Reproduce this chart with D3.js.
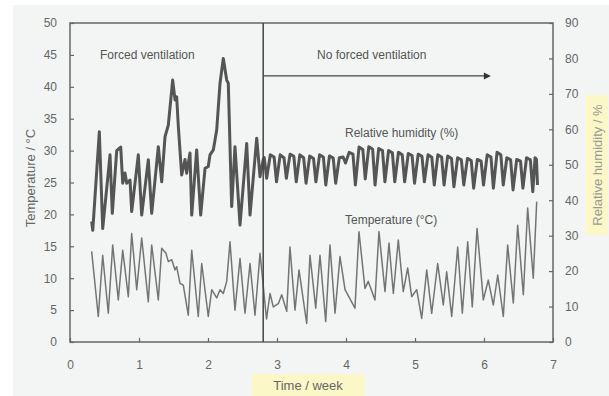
<!DOCTYPE html>
<html><head><meta charset="utf-8">
<script src="https://cdn.jsdelivr.net/npm/d3@7"></script>
<style>html,body{margin:0;padding:0;background:#fff;}svg{display:block;}</style>
</head><body><svg id="c" width="609" height="396"></svg>
<script>
// ---- data ----
const tempTicks = [0,5,10,15,20,25,30,35,40,45,50];
const rhTicks = [0,10,20,30,40,50,60,70,80,90];
const weekTicks = [0,1,2,3,4,5,6,7];
const ventilationChange = 2.8;
const arrowEnd = 6.1;
// Temperature (°C) vs week
const temperature = [
[0.314,14.2],[0.410,4.0],[0.474,13.6],[0.555,4.5],[0.619,15.2],[0.700,6.6],[0.764,14.4],[0.845,7.1],
[0.894,17.0],[0.967,8.2],[1.039,16.3],[1.135,6.3],[1.184,15.2],[1.280,6.6],[1.329,14.7],[1.391,13.9],
[1.425,12.6],[1.474,12.9],[1.522,11.3],[1.546,11.8],[1.594,9.2],[1.642,8.9],[1.714,4.2],[1.764,14.4],
[1.859,4.0],[1.909,12.3],[2.004,4.0],[2.054,8.2],[2.126,6.9],[2.174,8.2],[2.222,7.6],[2.271,9.5],
[2.319,15.7],[2.391,5.0],[2.464,13.1],[2.536,4.5],[2.609,12.3],[2.681,4.2],[2.754,13.9],[2.848,3.6],
[2.899,7.6],[2.946,5.5],[3.019,6.0],[3.068,7.4],[3.141,4.8],[3.188,14.9],[3.261,5.0],[3.319,11.3],
[3.430,2.9],[3.478,13.6],[3.561,5.3],[3.623,13.6],[3.706,3.2],[3.768,15.2],[3.841,4.5],[3.913,13.4],
[3.986,8.2],[4.130,5.3],[4.188,17.3],[4.275,8.4],[4.323,9.5],[4.420,6.6],[4.478,17.3],[4.565,7.9],
[4.623,15.5],[4.686,7.6],[4.758,16.0],[4.830,7.9],[4.894,11.6],[4.952,7.1],[5.025,8.2],[5.097,3.7],
[5.170,11.3],[5.242,4.5],[5.329,12.3],[5.410,5.8],[5.459,11.0],[5.532,4.0],[5.619,14.9],[5.686,4.5],
[5.764,15.7],[5.830,5.5],[5.899,17.8],[5.990,6.6],[6.062,9.7],[6.135,5.8],[6.199,10.5],[6.280,4.0],
[6.343,15.2],[6.425,6.1],[6.488,18.3],[6.570,7.4],[6.633,21.0],[6.714,10.0],[6.764,22.0]
];
// Relative humidity (%) vs week
const humidity = [
[0.314,34.0],[0.330,31.5],[0.425,59.3],[0.474,32.0],[0.580,52.8],[0.613,36.3],[0.677,54.0],[0.735,55.0],
[0.764,44.8],[0.797,47.7],[0.822,44.8],[0.870,45.7],[0.894,36.8],[0.990,52.8],[1.039,35.8],[1.135,51.4],
[1.184,36.3],[1.280,55.1],[1.329,45.2],[1.377,57.9],[1.425,61.2],[1.488,73.9],[1.522,68.3],[1.546,69.2],
[1.570,60.8],[1.619,47.1],[1.667,51.5],[1.691,47.6],[1.739,53.3],[1.764,35.8],[1.836,54.2],[1.894,35.8],
[1.957,49.0],[2.004,49.5],[2.029,52.8],[2.077,54.2],[2.126,59.8],[2.174,73.0],[2.222,80.0],[2.271,73.9],
[2.294,73.0],[2.343,38.2],[2.391,55.1],[2.464,33.0],[2.561,56.0],[2.609,35.8],[2.706,57.5],[2.754,46.6],
[2.801,51.5],[2.815,52.0],[2.850,46.2],
[2.903,52.8],[2.958,52.2],[2.993,45.2],
[3.046,52.8],[3.101,52.0],[3.136,46.2],
[3.189,53.0],[3.244,52.4],[3.279,45.2],
[3.331,52.8],[3.386,52.0],[3.421,44.8],
[3.474,52.5],[3.529,51.8],[3.564,45.2],
[3.617,52.8],[3.672,52.2],[3.707,44.3],
[3.760,52.5],[3.815,51.9],[3.850,44.8],
[3.903,52.0],[3.958,52.2],[3.993,50.5],
[4.046,53.5],[4.101,53.0],[4.136,44.3],
[4.189,55.0],[4.244,54.3],[4.279,46.0],
[4.331,55.1],[4.386,54.4],[4.421,44.3],
[4.474,54.6],[4.529,54.0],[4.564,45.2],
[4.617,54.0],[4.672,53.4],[4.707,45.2],
[4.760,53.5],[4.815,52.8],[4.850,45.2],
[4.903,53.2],[4.958,52.6],[4.993,44.8],
[5.046,53.0],[5.101,52.4],[5.136,45.2],
[5.189,52.8],[5.244,52.1],[5.279,44.3],
[5.331,52.8],[5.386,52.2],[5.421,44.3],
[5.474,52.5],[5.529,51.8],[5.564,43.8],
[5.617,52.0],[5.672,51.4],[5.707,44.3],
[5.760,51.8],[5.815,51.2],[5.850,43.4],
[5.903,51.5],[5.958,51.0],[5.993,44.3],
[6.046,52.8],[6.101,52.2],[6.136,43.4],
[6.189,53.5],[6.244,52.8],[6.279,44.3],
[6.331,52.0],[6.386,51.4],[6.421,42.9],
[6.474,51.5],[6.529,51.0],[6.564,43.4],
[6.617,52.0],[6.672,51.4],[6.707,42.4],
[6.740,52.0],[6.760,51.5],[6.775,44.3]
];

// ---- chart ----
const svg = d3.select("#c");
const font = "Liberation Sans, Arial, sans-serif";
const M = {l:70, r:553, t:23, b:342};
const x = d3.scaleLinear().domain([0,7]).range([M.l, M.r]);
const yT = d3.scaleLinear().domain([0,50]).range([M.b, M.t]);
const yH = d3.scaleLinear().domain([0,90]).range([M.b, M.t]);

svg.append("rect").attr("x",0).attr("y",0).attr("width",609).attr("height",396).attr("fill","#ffffff");
svg.append("rect").attr("x",13).attr("y",5).attr("width",596).attr("height",391).attr("fill","#f2f5f3");

// yellow label backgrounds
svg.append("rect").attr("x",252).attr("y",374).attr("width",113).attr("height",22).attr("fill","#fbf7c6");
svg.append("rect").attr("x",586).attr("y",95).attr("width",22).attr("height",140).attr("fill","#fbf7c6");

const axisColor = "#666";
// frame
svg.append("rect").attr("x",M.l).attr("y",M.t).attr("width",M.r-M.l).attr("height",M.b-M.t)
  .attr("fill","none").attr("stroke",axisColor).attr("stroke-width",1.5);

// axes
function styleAxis(g){
  g.select(".domain").remove();
  g.selectAll(".tick line").attr("stroke",axisColor).attr("stroke-width",1.2);
  g.selectAll(".tick text").attr("fill","#666").attr("font-family",font).attr("font-size",12);
}
svg.append("g").attr("transform",`translate(${M.l},0)`)
  .call(d3.axisLeft(yT).tickValues(tempTicks).tickFormat(d3.format("d")).tickSizeInner(-4).tickSizeOuter(0).tickPadding(13))
  .call(styleAxis);
svg.append("g").attr("transform",`translate(${M.r},0)`)
  .call(d3.axisRight(yH).tickValues(rhTicks).tickFormat(d3.format("d")).tickSizeInner(-4).tickSizeOuter(0).tickPadding(12))
  .call(styleAxis);
svg.append("g").attr("transform",`translate(0,${M.b})`)
  .call(d3.axisBottom(x).tickValues(weekTicks).tickFormat(d3.format("d")).tickSizeInner(-4).tickSizeOuter(0).tickPadding(18))
  .call(styleAxis);

// lines
const lineT = d3.line().x(d=>x(d[0])).y(d=>yT(d[1]));
const lineH = d3.line().x(d=>x(d[0])).y(d=>yH(d[1]));
svg.append("path").datum(temperature).attr("d",lineT).attr("fill","none")
  .attr("stroke","#747474").attr("stroke-width",1.5).attr("stroke-linejoin","round");
svg.append("path").datum(humidity).attr("d",lineH).attr("fill","none")
  .attr("stroke","#555").attr("stroke-width",3).attr("stroke-linejoin","round");

// ventilation divider and arrow
svg.append("line").attr("x1",x(ventilationChange)).attr("x2",x(ventilationChange))
  .attr("y1",M.t).attr("y2",M.b).attr("stroke","#444").attr("stroke-width",1.5);
const ay = yT(41.7);
svg.append("line").attr("x1",x(ventilationChange)).attr("x2",x(arrowEnd)-4)
  .attr("y1",ay).attr("y2",ay).attr("stroke","#444").attr("stroke-width",1.3);
svg.append("path").attr("d",`M${x(arrowEnd)},${ay} l-7,-3.5 l0,7 z`).attr("fill","#333");

// texts
function txt(s,xp,yp,opts={}){
  const t = svg.append("text").attr("x",xp).attr("y",yp).text(s)
    .attr("font-family",font).attr("font-size",opts.size||12).attr("fill",opts.fill||"#555")
    .attr("text-anchor",opts.anchor||"start");
  if(opts.rot!==undefined) t.attr("transform",`rotate(${opts.rot},${xp},${yp})`);
  return t;
}
txt("Forced ventilation",100,59);
txt("No forced ventilation",317,59);
txt("Relative humidity (%)",345,137);
txt("Temperature (°C)",345,224);
txt("Time / week",308,390,{anchor:"middle",size:13,fill:"#666"});
txt("Temperature / °C",35,178,{anchor:"middle",size:13,fill:"#666",rot:-90});
txt("Relative humidity / %",602,165,{anchor:"middle",size:13,fill:"#999",rot:-90});
</script></body></html>
